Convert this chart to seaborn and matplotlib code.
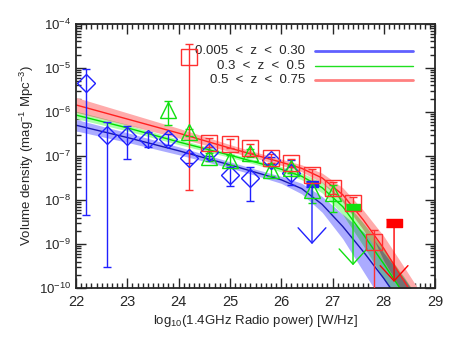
import numpy as np
import pandas as pd
import matplotlib
matplotlib.use("Agg")
import matplotlib.pyplot as plt
import seaborn as sns
from matplotlib.patches import FancyArrowPatch
from matplotlib.ticker import MultipleLocator, LogLocator, NullFormatter

# data points, log10 of volume density
blue_x = [22.2, 22.6, 23.0, 23.4, 23.8, 24.2, 24.6, 25.0, 25.4, 25.8, 26.2]
blue_y = [-5.34, -6.52, -6.55, -6.61, -6.61, -7.05, -6.90, -7.43, -7.50, -7.09, -7.39]
blue_up = [-5.02, -6.23, -6.32, -6.45, -6.50, -6.93, -6.80, -7.25, -7.25, -7.02, -7.09]
blue_lo = [-8.34, -9.52, -7.07, -6.80, -6.75, -7.16, -7.00, -7.68, -8.02, -7.18, -7.66]

green_x = [23.8, 24.2, 24.6, 25.0, 25.4, 25.8, 26.2, 26.6, 27.0]
green_y = [-5.95, -6.45, -7.02, -7.09, -6.93, -7.32, -7.28, -7.78, -7.84]
green_up = [-5.75, -6.38, -6.92, -6.98, -6.85, -7.22, -7.20, -7.65, -7.66]
green_lo = [-6.30, -6.55, -7.12, -7.20, -7.03, -7.45, -7.38, -8.07, -8.27]

red_x = [24.2, 24.6, 25.0, 25.4, 25.8, 26.2, 26.6, 27.0, 27.4, 27.8]
red_y = [-4.75, -6.70, -6.72, -6.82, -7.05, -7.16, -7.43, -7.73, -8.07, -8.95]
red_up = [-4.45, -6.60, -6.62, -6.72, -6.95, -7.06, -7.30, -7.60, -7.92, -8.68]
red_lo = [-7.77, -6.80, -6.82, -6.92, -7.15, -7.26, -7.56, -7.86, -8.22, -10.5]

# upper limits: x, value, arrow tip
lim_x = [26.6, 27.4, 28.2]
lim_y = [-7.64, -8.16, -8.52]
lim_tip = [-9.0, -9.48, -9.86]

# fitted functions and their uncertainty (dex)
fit_x = [22.0, 23.0, 24.0, 25.0, 25.5, 26.0, 26.4, 26.8, 27.2, 27.6, 28.0, 28.4, 28.8]
blue_fit = [-6.30, -6.58, -6.88, -7.20, -7.37, -7.54, -7.74, -8.10, -8.60, -9.17, -9.78, -10.45, -11.2]
green_fit = [-6.07, -6.36, -6.68, -6.98, -7.14, -7.30, -7.46, -7.72, -8.15, -8.78, -9.45, -10.15, -10.9]
red_fit = [-5.84, -6.16, -6.48, -6.82, -6.98, -7.14, -7.28, -7.50, -7.88, -8.45, -9.10, -9.85, -10.6]
blue_err = [0.13, 0.11, 0.09, 0.07, 0.07, 0.08, 0.12, 0.18, 0.28, 0.45, 0.58, 0.66, 0.75]
green_err = [0.08, 0.07, 0.06, 0.05, 0.05, 0.06, 0.08, 0.12, 0.18, 0.26, 0.34, 0.40, 0.45]
red_err = [0.17, 0.14, 0.11, 0.08, 0.07, 0.07, 0.08, 0.11, 0.16, 0.22, 0.28, 0.32, 0.35]

labels = ["0.005  <  z  <  0.30", "0.3  <  z  <  0.5", "0.5  <  z  <  0.75"]

sns.set_style("ticks")
plt.rcParams['font.family'] = ['Liberation Sans', 'DejaVu Sans']
plt.rcParams['mathtext.fontset'] = 'custom'
plt.rcParams['mathtext.rm'] = 'Liberation Sans'
plt.rcParams['mathtext.it'] = 'Liberation Sans'

fig = plt.figure(figsize=(4.58, 3.37), dpi=100)
ax = fig.add_axes([0.166, 0.145, 0.784, 0.784])

fx = np.array(fit_x)
bands = []
for fit, err, col in [(blue_fit, blue_err, (0.67, 0.67, 1.0)),
                      (green_fit, green_err, (0.67, 1.0, 0.67)),
                      (red_fit, red_err, (1.0, 0.67, 0.67))]:
    f = np.array(fit)
    e = np.array(err)
    bands.append((10 ** (f - e), 10 ** (f + e), np.array(col)))

# single bands, then overlaps coloured as multiplied colours
for lo, hi, col in bands:
    ax.fill_between(fx, lo, hi, color=col, lw=0, zorder=1)
pairs = [(0, 1), (0, 2), (1, 2)]
for i, j in pairs:
    lo = np.maximum(bands[i][0], bands[j][0])
    hi = np.minimum(bands[i][1], bands[j][1])
    ax.fill_between(fx, lo, hi, where=hi > lo, interpolate=True,
                    color=bands[i][2] * bands[j][2], lw=0, zorder=1.1)
lo = np.maximum(np.maximum(bands[0][0], bands[1][0]), bands[2][0])
hi = np.minimum(np.minimum(bands[0][1], bands[1][1]), bands[2][1])
ax.fill_between(fx, lo, hi, where=hi > lo, interpolate=True,
                color=bands[0][2] * bands[1][2] * bands[2][2], lw=0, zorder=1.2)

fits = pd.DataFrame({"x": fit_x * 3,
                     "y": 10 ** np.array(blue_fit + green_fit + red_fit),
                     "s": ["b"] * 13 + ["g"] * 13 + ["r"] * 13})
sns.lineplot(data=fits, x="x", y="y", hue="s", sort=False, estimator=None,
             palette={"b": "#1818b0", "g": "#00dd00", "r": "#ff2020"},
             lw=1.0, legend=False, ax=ax, zorder=2)

def points(x, y, up, lo, color, marker, ms):
    y = np.array(y)
    yerr = [10 ** y - 10 ** np.array(lo), 10 ** np.array(up) - 10 ** y]
    ax.errorbar(x, 10 ** y, yerr=yerr, fmt=marker, mfc='none', mec=color,
                ecolor=color, ms=ms, mew=1.0, elinewidth=1.0, capsize=3,
                capthick=1.0, zorder=3)

points(blue_x, blue_y, blue_up, blue_lo, '#2020ff', 'D', 9)
points(green_x, green_y, green_up, green_lo, '#10e010', '^', 12)
points(red_x, red_y, red_up, red_lo, '#ff3030', 's', 11)

# upper limits: filled bar plus open arrow pointing down
rect = [(-1, -0.5), (1, -0.5), (1, 0.5), (-1, 0.5)]
for x, y, tip, col, ms in zip(lim_x, lim_y, lim_tip, ['#2020ff', '#10e010', '#ff0000'], [8, 10, 12]):
    ax.plot([x], [10 ** y], marker=rect, ms=ms, color=col, ls='none', zorder=3)
    arr = FancyArrowPatch((x, 10 ** y), (x, 10 ** tip),
                          arrowstyle='->, head_length=1.1, head_width=1.0',
                          mutation_scale=10, color=col, lw=1.0,
                          shrinkA=0, shrinkB=0, zorder=3)
    ax.add_patch(arr)

# legend drawn by hand so labels stay right aligned
for k, (lab, col, lw) in enumerate(zip(labels, ['#6060ff', '#20e020', '#ff8080'], [2.0, 1.0, 2.0])):
    yy = 0.897 - k * 0.055
    ax.text(0.637, yy, lab, transform=ax.transAxes, ha='right', va='center', fontsize=9.5)
    ax.plot([0.665, 0.939], [yy, yy], transform=ax.transAxes, color=col, lw=lw)

ax.set_yscale('log')
ax.set_xlim(22, 29)
ax.set_ylim(1e-10, 1e-4)
ax.xaxis.set_major_locator(MultipleLocator(1))
ax.xaxis.set_minor_locator(MultipleLocator(0.1))
ax.yaxis.set_major_locator(LogLocator(base=10, numticks=10))
ax.yaxis.set_minor_locator(LogLocator(base=10, subs=np.arange(2, 10), numticks=20))
ax.yaxis.set_minor_formatter(NullFormatter())
ax.tick_params(which='both', direction='in', top=True, right=True, labelsize=9.5, width=1.0)
ax.tick_params(axis='x', labelsize=10.5, pad=5)
ax.tick_params(which='major', length=7)
ax.tick_params(which='minor', length=3.5)
for s in ax.spines.values():
    s.set_linewidth(1.3)
ax.set_xlabel("log$_{10}$(1.4GHz Radio power) [W/Hz]", fontsize=9.5, labelpad=3)
ax.set_ylabel("Volume density (mag$^{-1}$ Mpc$^{-3}$)", fontsize=9.5, labelpad=2)

fig.savefig("out.png", dpi=100)
